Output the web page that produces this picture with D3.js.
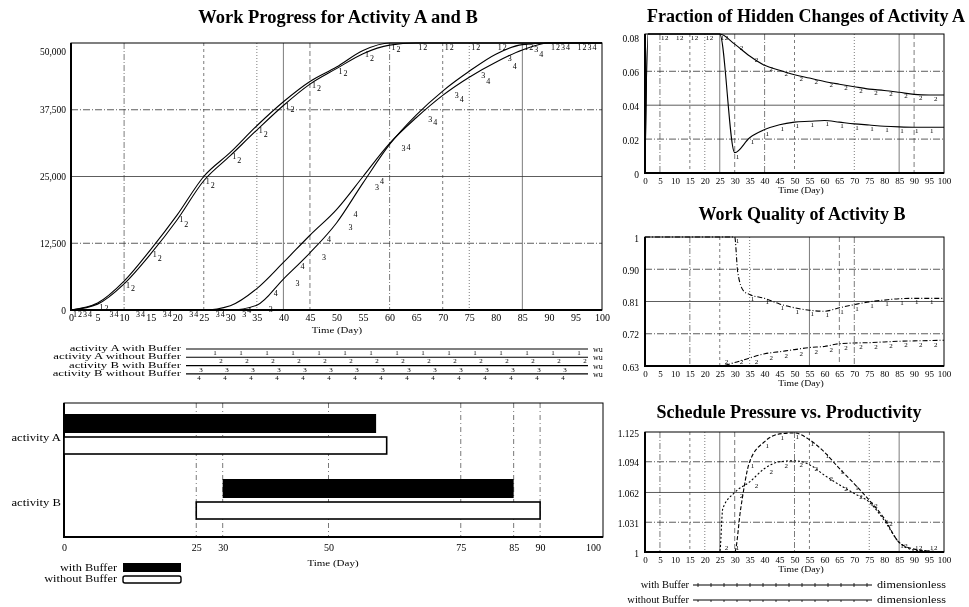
<!DOCTYPE html>
<html>
<head>
<meta charset="utf-8">
<script src="https://cdn.jsdelivr.net/npm/d3@7"></script>
<style>
  body { margin: 0; background: #fff; }
  svg { font-family: "Liberation Serif", "Times New Roman", serif; will-change: transform; }
  svg text { fill: #000; }
</style>
</head>
<body>
<svg id="chart" width="969" height="607"></svg>
<script>
// ---- data ----
const days = [0, 5, 10, 15, 20, 25, 30, 35, 40, 45, 50, 55, 60, 65, 70, 75, 80, 85, 90, 95, 100];
const aWithBuffer    = [0, 1300, 5400, 11300, 17800, 25000, 29500, 34500, 39000, 42800, 45500, 48600, 50000, 50000, 50000, 50000, 50000, 50000, 50000, 50000, 50000];
const aWithoutBuffer = [0, 1100, 4900, 10500, 16900, 24200, 28900, 33700, 38300, 42300, 45200, 48000, 49600, 50000, 50000, 50000, 50000, 50000, 50000, 50000, 50000];
const bWithBuffer    = [0, 0, 0, 0, 0, 0, 0, 900, 5800, 10700, 16300, 23800, 31000, 36500, 41000, 44700, 47900, 49700, 50000, 50000, 50000];
const bWithoutBuffer = [0, 0, 0, 0, 0, 0, 800, 4000, 8900, 14000, 18800, 25000, 31200, 36000, 40200, 43600, 46400, 48700, 50000, 50000, 50000];
const progressLabels = ["activity A with Buffer", "activity A without Buffer", "activity B with Buffer", "activity B without Buffer"];
const progressTicks = [0, 12500, 25000, 37500, 50000];

const activities = ["activity A", "activity B"];
const withStart = [0, 30];
const withEnd = [59, 85];
const withoutStart = [0, 25];
const withoutEnd = [61, 90];
const ganttTicks = [0, 25, 30, 50, 75, 85, 90, 100];

const fracDays = [0, 1, 5, 10, 15, 20, 25, 30, 35, 40, 45, 50, 55, 60, 65, 70, 75, 80, 85, 90, 95, 100];
const fracWithBuffer    = [0, 0.082, 0.082, 0.082, 0.082, 0.082, 0.082, 0.012, 0.0208, 0.0256, 0.0285, 0.030, 0.0305, 0.031, 0.030, 0.029, 0.0283, 0.0276, 0.0272, 0.027, 0.027, 0.027];
const fracWithoutBuffer = [0, 0.082, 0.082, 0.082, 0.082, 0.082, 0.082, 0.076, 0.069, 0.0635, 0.0606, 0.058, 0.056, 0.054, 0.0524, 0.0509, 0.0495, 0.0487, 0.0476, 0.0464, 0.046, 0.046];
const fracTicks = [0, 0.02, 0.04, 0.06, 0.08];
const fracTickLabels = ["0", "0.02", "0.04", "0.06", "0.08"];

const wqDaysWith = [0, 30, 31, 33, 35, 40, 45, 50, 55, 60, 65, 70, 75, 80, 85, 90, 95, 100];
const wqWithBuffer = [1, 1, 0.9, 0.845, 0.835, 0.824, 0.808, 0.797, 0.79, 0.787, 0.797, 0.806, 0.814, 0.819, 0.823, 0.824, 0.824, 0.824];
const wqDaysWithout = [0, 25, 30, 35, 40, 45, 50, 55, 60, 65, 70, 75, 80, 85, 90, 95, 100];
const wqWithoutBuffer = [0.63, 0.63, 0.64, 0.653, 0.665, 0.671, 0.677, 0.683, 0.686, 0.694, 0.696, 0.697, 0.699, 0.701, 0.702, 0.703, 0.704];
const wqTicks = [0.63, 0.7225, 0.815, 0.9075, 1];
const wqTickLabels = ["0.63", "0.72", "0.81", "0.90", "1"];

const spDaysWith = [0, 30, 32, 35, 40, 45, 50, 55, 60, 65, 70, 75, 80, 85, 90, 95, 100];
const spWithBuffer = [1, 1, 1.045, 1.094, 1.115, 1.123, 1.124, 1.117, 1.104, 1.087, 1.071, 1.054, 1.035, 1.01, 1.003, 1.001, 1];
const spDaysWithout = [0, 25, 26, 30, 35, 40, 45, 50, 55, 60, 65, 70, 75, 80, 85, 90, 95, 100];
const spWithoutBuffer = [1, 1, 1.045, 1.062, 1.073, 1.087, 1.094, 1.095, 1.091, 1.08, 1.07, 1.061, 1.052, 1.033, 1.01, 1.002, 1.001, 1];
const spTicks = [1, 1.031, 1.062, 1.094, 1.125];
const spTickLabels = ["1", "1.031", "1.062", "1.094", "1.125"];

// ---- drawing ----
const svg = d3.select("#chart");
const zip = (ts, vs) => ts.map((t, i) => ({t: t, v: vs[i]}));
const dashes = ["6,2,1,2", "3,3", "1,2", null, "5,3"];

// the scanned labels are wider than plain Times, so stretch them sideways
function stretch(sel, factor) {
	sel.each(function () {
		let len = this.getComputedTextLength();
		d3.select(this).attr("textLength", len * factor).attr("lengthAdjust", "spacingAndGlyphs");
	});
}

function styleAxis(g, size) {
	g.attr("font-family", null).attr("font-size", null);
	g.select(".domain").remove();
	g.selectAll("text").style("font-size", size + "px");
}

function drawGrid(g, x, y, vTicks, hTicks, box) {
	g.selectAll("line.v").data(vTicks).enter().append("line")
		.attr("x1", x).attr("x2", x)
		.attr("y1", box.top).attr("y2", box.bottom)
		.style("stroke", "#444").style("stroke-width", 0.7)
		.style("stroke-dasharray", (d, i) => dashes[i % dashes.length]);
	g.selectAll("line.h").data(hTicks).enter().append("line")
		.attr("x1", box.left).attr("x2", box.right)
		.attr("y1", y).attr("y2", y)
		.style("stroke", "#333").style("stroke-width", 0.8)
		.style("stroke-dasharray", (d, i) => i === 1 ? null : "7,2,1,2");
}

function drawFrame(g, box) {
	g.append("rect")
		.attr("x", box.left).attr("y", box.top)
		.attr("width", box.right - box.left).attr("height", box.bottom - box.top)
		.style("fill", "none").style("stroke", "#000").style("stroke-width", 1);
	g.append("path")
		.attr("d", "M" + box.left + "," + box.top + "V" + box.bottom + "H" + box.right)
		.style("fill", "none").style("stroke", "#000").style("stroke-width", 2);
}

function drawSeries(g, x, y, data, mark, offset, size, dash, withFirst) {
	let line = d3.line().x(d => x(d.t)).y(d => y(d.v)).curve(d3.curveMonotoneX);
	let bottom = y.range()[0];
	g.append("path")
		.attr("d", line(data))
		.style("fill", "none").style("stroke", "#000").style("stroke-width", 1.1)
		.style("stroke-dasharray", dash);
	g.selectAll("text.m" + mark)
		.data(data.filter(d => d.t % 5 === 0 && d.t < 100 && (withFirst || d.t > 0)))
		.enter().append("text")
		.attr("x", d => x(d.t) + offset)
		.attr("y", d => withFirst ? y(d.v) + size - 1 : Math.min(y(d.v) + size - 1, bottom - 2))
		.style("font-size", size + "px")
		.text(mark);
}

// Work progress (main chart)
const main = {left: 71, right: 602, top: 43, bottom: 310};
const xMain = d3.scaleLinear().domain([0, 100]).range([main.left, main.right]);
const yMain = d3.scaleLinear().domain([0, 50000]).range([main.bottom, main.top]);
const gMain = svg.append("g");

gMain.append("text").attr("x", 338).attr("y", 23).attr("text-anchor", "middle")
	.style("font-size", "18.5px").style("font-weight", "bold")
	.text("Work Progress for Activity A and B");

drawGrid(gMain, xMain, yMain, [10, 25, 35, 40, 45, 60, 70, 75, 85], [12500, 25000, 37500], main);
drawFrame(gMain, main);

gMain.append("g")
	.attr("transform", "translate(0," + main.bottom + ")")
	.call(d3.axisBottom(xMain).tickValues(days).tickSize(0).tickPadding(4))
	.call(g => styleAxis(g, 10));

gMain.append("g")
	.attr("transform", "translate(" + main.left + ",0)")
	.call(d3.axisLeft(yMain).tickValues(progressTicks).tickSize(0).tickPadding(5).tickFormat(d3.format(",")))
	.call(g => styleAxis(g, 9.5))
	.selectAll("text").attr("y", d => d === 50000 ? 8 : 0);

stretch(gMain.append("text").attr("x", 337).attr("y", 333).attr("text-anchor", "middle")
	.style("font-size", "9px").text("Time (Day)"), 1.2);

[aWithBuffer, aWithoutBuffer, bWithBuffer, bWithoutBuffer].forEach((vals, i) => {
	drawSeries(gMain, xMain, yMain, zip(days, vals), String(i + 1), 2 + i * 5, 8, null, true);
});

// legend of the main chart
const legStart = [215, 221, 201, 199];
progressLabels.forEach((label, i) => {
	let ly = 349 + i * 8.3;
	let lg = svg.append("g");
	stretch(lg.append("text").attr("x", 181).attr("y", ly + 2).attr("text-anchor", "end")
		.style("font-size", "8.5px").text(label), 1.5);
	lg.append("line").attr("x1", 186).attr("x2", 588).attr("y1", ly).attr("y2", ly)
		.style("stroke", "#000").style("stroke-width", 1.1);
	lg.selectAll("text.n").data(d3.range(15)).enter().append("text")
		.attr("x", k => legStart[i] + k * 26).attr("y", ly + 6)
		.attr("text-anchor", "middle").style("font-size", "7px").text(i + 1);
	lg.append("text").attr("x", 593).attr("y", ly + 3).style("font-size", "8px").text("wu");
});

// Gantt chart
const gbox = {left: 64, right: 603, top: 403, bottom: 537};
const xGantt = d3.scaleLinear().domain([0, 100]).range([64, 593]);
const yGantt = d3.scalePoint().domain(activities).range([435, 500]);
const gGantt = svg.append("g");

gGantt.selectAll("line.g").data(ganttTicks.filter(d => d > 0 && d < 100)).enter().append("line")
	.attr("x1", xGantt).attr("x2", xGantt).attr("y1", gbox.top).attr("y2", gbox.bottom)
	.style("stroke", "#555").style("stroke-width", 0.8).style("stroke-dasharray", "5,3,1,3");
drawFrame(gGantt, gbox);

gGantt.selectAll("rect.w").data(activities).enter().append("rect")
	.attr("x", (d, i) => xGantt(withStart[i]))
	.attr("width", (d, i) => xGantt(withEnd[i]) - xGantt(withStart[i]))
	.attr("y", d => yGantt(d) - 21).attr("height", 19)
	.style("fill", "#000");
gGantt.selectAll("rect.wo").data(activities).enter().append("rect")
	.attr("x", (d, i) => xGantt(withoutStart[i]))
	.attr("width", (d, i) => xGantt(withoutEnd[i]) - xGantt(withoutStart[i]))
	.attr("y", d => yGantt(d) + 2).attr("height", 17)
	.style("fill", "#fff").style("stroke", "#000").style("stroke-width", 1.6);
stretch(gGantt.selectAll("text.act").data(activities).enter().append("text")
	.attr("x", 61).attr("y", d => yGantt(d) + 6).attr("text-anchor", "end")
	.style("font-size", "9.5px").text(d => d), 1.33);

gGantt.append("g")
	.attr("transform", "translate(0," + gbox.bottom + ")")
	.call(d3.axisBottom(xGantt).tickValues(ganttTicks).tickSize(0).tickPadding(7))
	.call(g => styleAxis(g, 10));
stretch(gGantt.append("text").attr("x", 333).attr("y", 566).attr("text-anchor", "middle")
	.style("font-size", "9px").text("Time (Day)"), 1.22);

stretch(gGantt.append("text").attr("x", 117).attr("y", 571).attr("text-anchor", "end")
	.style("font-size", "9.5px").text("with Buffer"), 1.3);
gGantt.append("rect").attr("x", 123).attr("y", 563).attr("width", 58).attr("height", 9).style("fill", "#000");
stretch(gGantt.append("text").attr("x", 117).attr("y", 582).attr("text-anchor", "end")
	.style("font-size", "9.5px").text("without Buffer"), 1.3);
gGantt.append("rect").attr("x", 123).attr("y", 576).attr("width", 58).attr("height", 7).attr("rx", 2)
	.style("fill", "#fff").style("stroke", "#000").style("stroke-width", 1.4);

// small charts on the right
function smallChart(cfg) {
	let box = {left: 645, right: 944, top: cfg.top, bottom: cfg.bottom};
	let x = d3.scaleLinear().domain([0, 100]).range([box.left, box.right]);
	let y = d3.scaleLinear().domain(cfg.domain).range([box.bottom, box.top]);
	let g = svg.append("g");

	g.append("text").attr("x", cfg.titleX).attr("y", cfg.titleY).attr("text-anchor", "middle")
		.style("font-size", "18px").style("font-weight", "bold").text(cfg.title);

	drawGrid(g, x, y, cfg.vGrid, cfg.hGrid, box);
	drawFrame(g, box);

	g.append("g")
		.attr("transform", "translate(0," + box.bottom + ")")
		.call(d3.axisBottom(x).tickValues(days).tickSize(0).tickPadding(5))
		.call(a => styleAxis(a, 9));
	g.append("g")
		.attr("transform", "translate(" + (box.left - 4) + ",0)")
		.call(d3.axisLeft(y).tickValues(cfg.ticks).tickSize(0).tickPadding(2)
			.tickFormat((d, i) => cfg.tickLabels[i]))
		.call(a => styleAxis(a, 9.5))
		.selectAll("text").attr("y", 1);
	stretch(g.append("text").attr("x", 801).attr("y", box.bottom + 20).attr("text-anchor", "middle")
		.style("font-size", "8.5px").text("Time (Day)"), 1.15);

	cfg.series.forEach((s, i) => {
		drawSeries(g, x, y, s, String(i + 1), 1 + i * 4, 7, cfg.dash[i], false);
	});
}

smallChart({
	title: "Fraction of Hidden Changes of Activity A", titleX: 806, titleY: 22,
	top: 34, bottom: 173, domain: [0, 0.082],
	ticks: fracTicks, tickLabels: fracTickLabels,
	vGrid: [5, 15, 20, 25, 30, 40, 50, 70, 85, 90], hGrid: [0.02, 0.04, 0.06],
	series: [zip(fracDays, fracWithBuffer), zip(fracDays, fracWithoutBuffer)],
	dash: [null, null]
});

smallChart({
	title: "Work Quality of Activity B", titleX: 802, titleY: 220,
	top: 237, bottom: 366, domain: [0.63, 1],
	ticks: wqTicks, tickLabels: wqTickLabels,
	vGrid: [15, 25, 35, 55, 65, 70], hGrid: [0.7225, 0.815, 0.9075],
	series: [zip(wqDaysWith, wqWithBuffer), zip(wqDaysWithout, wqWithoutBuffer)],
	dash: ["5,2,1,2", "5,2,1,2"]
});

smallChart({
	title: "Schedule Pressure vs. Productivity", titleX: 789, titleY: 418,
	top: 432, bottom: 552, domain: [1, 1.125],
	ticks: spTicks, tickLabels: spTickLabels,
	vGrid: [5, 15, 20, 25, 30, 50, 55, 75, 85], hGrid: [1.031, 1.062, 1.094],
	series: [zip(spDaysWith, spWithBuffer), zip(spDaysWithout, spWithoutBuffer)],
	dash: ["4,2", "2,2"]
});

// legend of the schedule pressure chart
["with Buffer", "without Buffer"].forEach((label, i) => {
	let ly = 585 + i * 15;
	let lg = svg.append("g");
	stretch(lg.append("text").attr("x", 689).attr("y", ly + 3).attr("text-anchor", "end")
		.style("font-size", "9.5px").text(label), 1.1);
	lg.append("line").attr("x1", 693).attr("x2", 872).attr("y1", ly).attr("y2", ly)
		.style("stroke", "#000").style("stroke-width", 1);
	lg.selectAll("line.t").data(d3.range(14)).enter().append("line")
		.attr("x1", k => 698 + k * 13).attr("x2", k => 698 + k * 13)
		.attr("y1", ly - (i === 0 ? 2 : 0)).attr("y2", ly + 2)
		.style("stroke", "#000").style("stroke-width", 0.8);
	stretch(lg.append("text").attr("x", 877).attr("y", ly + 3)
		.style("font-size", "9.5px").text("dimensionless"), 1.28);
});
</script>
</body>
</html>
